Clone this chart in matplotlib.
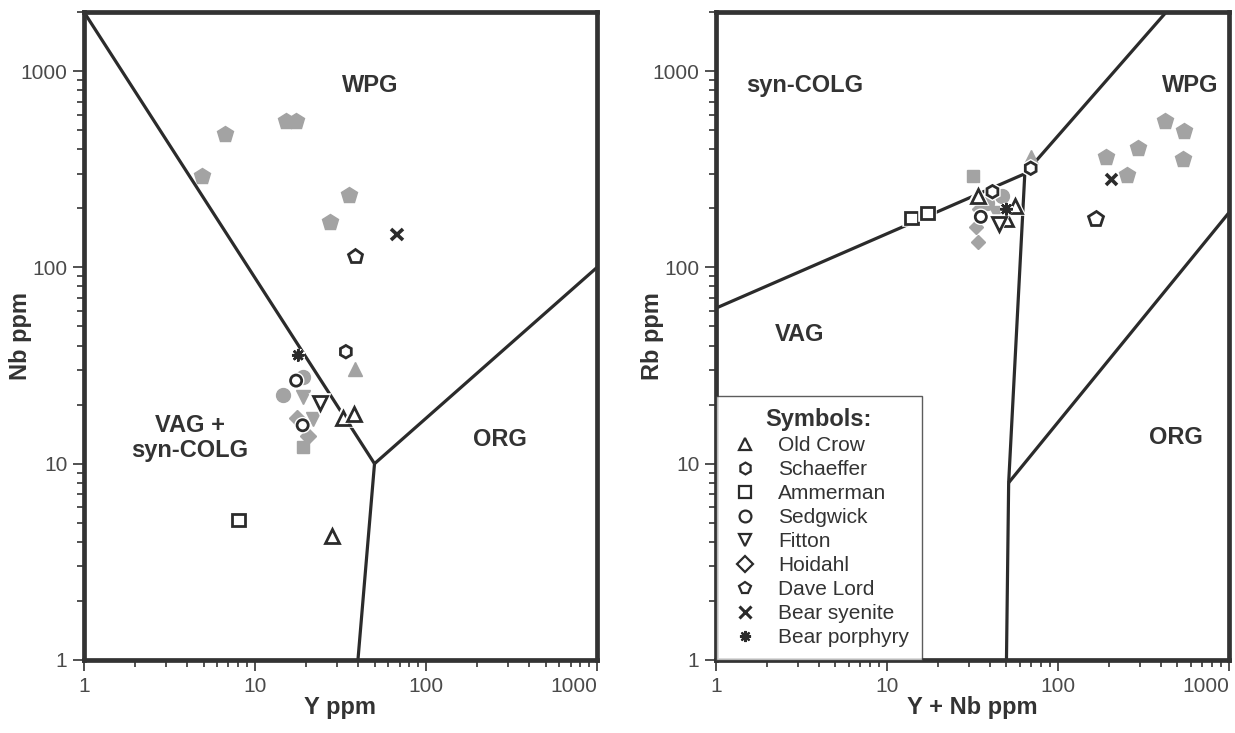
"""Pearce et al. (1984) granite discrimination diagrams: Nb-Y and Rb-(Y+Nb)."""

import matplotlib
matplotlib.use("Agg")
import matplotlib.pyplot as plt
import matplotlib.patheffects as pe
from matplotlib.lines import Line2D
from matplotlib.ticker import LogLocator, FixedLocator, NullFormatter

plt.rcParams['font.family'] = ['Liberation Sans', 'DejaVu Sans']

INK  = '#2b2b2b'
GREY = '#a3a3a3'

# ---- field boundaries ----
# Nb vs Y
NBY_WPG_VAG_X = [1, 50]
NBY_WPG_VAG_Y = [2000, 10]
NBY_WPG_ORG_X = [50, 1000]
NBY_WPG_ORG_Y = [10, 100]
NBY_ORG_VAG_X = [50, 40]
NBY_ORG_VAG_Y = [10, 1]
# Rb vs Y+Nb
RB_VAG_COLG_X = [1, 64]
RB_VAG_COLG_Y = [62, 300]
RB_COLG_WPG_X = [64, 430]
RB_COLG_WPG_Y = [300, 2000]
RB_WPG_VAG_X  = [64, 51.5, 50]
RB_WPG_VAG_Y  = [300, 8, 1]
RB_WPG_ORG_X  = [51.5, 1000]
RB_WPG_ORG_Y  = [8, 190]

TICKS = [1, 10, 100, 1000]
TICK_LABELS = ['1', '10', '100', '1000']

# ---- samples: Nb vs Y panel (open symbols) ----
L_OLDCROW_Y = [32.8, 37.9, 28.1]
L_OLDCROW_NB = [17.1, 17.9, 4.26]
L_SCHAEFFER_Y = [34.0]
L_SCHAEFFER_NB = [37.2]
L_AMMERMAN_Y = [8.0]
L_AMMERMAN_NB = [5.18]
L_SEDGWICK_Y = [17.4, 19.0]
L_SEDGWICK_NB = [26.5, 15.7]
L_FITTON_Y = [24.1]
L_FITTON_NB = [20.4]
L_DAVELORD_Y = [38.5]
L_DAVELORD_NB = [114]
L_SYENITE_Y = [67.7]
L_SYENITE_NB = [147]
L_PORPHYRY_Y = [17.9]
L_PORPHYRY_NB = [35.7]
# grey filled symbols
L_G_TRI_Y, L_G_TRI_NB = [38.5], [30.4]
L_G_CIR_Y, L_G_CIR_NB = [19.2, 14.5], [27.6, 22.4]
L_G_INV_Y, L_G_INV_NB = [19.2, 21.9], [21.9, 16.9]
L_G_DIA_Y, L_G_DIA_NB = [17.5, 20.5], [17.1, 13.9]
L_G_SQ_Y, L_G_SQ_NB = [19.0], [12.1]
L_G_PEN_Y = [4.88, 6.65, 15.2, 17.4, 35.6, 27.6]
L_G_PEN_NB = [292, 477, 554, 554, 233, 170]

# ---- samples: Rb vs Y+Nb panel ----
R_OLDCROW_X = [34.2, 56.1, 49.6]
R_OLDCROW_RB = [230, 206, 176]
R_SCHAEFFER_X = [41.4, 69.3]
R_SCHAEFFER_RB = [243, 320]
R_AMMERMAN_X = [13.9, 17.3]
R_AMMERMAN_RB = [178, 189]
R_SEDGWICK_X = [35.4]
R_SEDGWICK_RB = [181]
R_FITTON_X = [45.3]
R_FITTON_RB = [166]
R_DAVELORD_X = [166]
R_DAVELORD_RB = [177]
R_SYENITE_X = [205]
R_SYENITE_RB = [281]
R_PORPHYRY_X = [50]
R_PORPHYRY_RB = [198]
R_G_TRI_X, R_G_TRI_RB = [69.9], [363]
R_G_SQ_X, R_G_SQ_RB = [31.9], [292]
R_G_CIR_X, R_G_CIR_RB = [47.3, 38.7], [231, 214]
R_G_DIA_X, R_G_DIA_RB = [34.6, 33.4, 33.9], [198, 160, 134]
R_G_INV_X, R_G_INV_RB = [43.3], [190]
R_G_PEN_X = [425, 543, 293, 192, 536, 255]
R_G_PEN_RB = [557, 496, 408, 365, 356, 296]

SYMBOLS = ['Old Crow', 'Schaeffer', 'Ammerman', 'Sedgwick', 'Fitton',
           'Hoidahl', 'Dave Lord', 'Bear syenite', 'Bear porphyry']
MARKERS = {'Old Crow': ('^', 10), 'Schaeffer': ('h', 9), 'Ammerman': ('s', 9),
           'Sedgwick': ('o', 8), 'Fitton': ('v', 10), 'Hoidahl': ('D', 8),
           'Dave Lord': ('p', 11), 'Bear syenite': ('x', 8),
           'Bear porphyry': ((8, 2, 0), 9)}

halo = [pe.withStroke(linewidth=4, foreground='white')]


def boundary(ax, xs, ys):
    ax.plot(xs, ys, color=INK, lw=2.3, solid_capstyle='butt', zorder=2)


def grey(ax, xs, ys, m, ms=10):
    ax.plot(xs, ys, ls='none', marker=m, ms=ms, mfc=GREY, mec=GREY, zorder=3)


def open_pts(ax, xs, ys, name):
    m, ms = MARKERS[name]
    if name in ('Bear syenite', 'Bear porphyry'):
        ax.plot(xs, ys, ls='none', marker=m, ms=ms, mec=INK,
                mew=2.6 if name == 'Bear syenite' else 1.8,
                zorder=4, path_effects=halo)
    else:
        ax.plot(xs, ys, ls='none', marker=m, ms=ms, mfc='white', mec=INK,
                mew=2.0, zorder=4, path_effects=halo)


def style_axes(ax, xlabel, ylabel):
    ax.set_xscale('log')
    ax.set_yscale('log')
    ax.set_xlim(1, 1000)
    ax.set_ylim(1, 2000)
    for s in ax.spines.values():
        s.set_linewidth(3.4)
        s.set_color('#333333')
    ax.xaxis.set_major_locator(FixedLocator(TICKS))
    ax.yaxis.set_major_locator(FixedLocator(TICKS))
    ax.xaxis.set_minor_locator(LogLocator(base=10, subs=range(2, 10)))
    ax.yaxis.set_minor_locator(LogLocator(base=10, subs=range(2, 10)))
    ax.xaxis.set_minor_formatter(NullFormatter())
    ax.yaxis.set_minor_formatter(NullFormatter())
    ax.set_xticklabels(TICK_LABELS)
    ax.set_yticklabels(TICK_LABELS)
    ax.tick_params(which='major', direction='out', length=8, width=1.2,
                   color='#333333', labelsize=15, labelcolor='#4a4a4a', pad=4)
    ax.tick_params(which='minor', direction='out', length=5, width=1.2,
                   color='#333333')
    # keep the last x label inside the panel, as in the original figure
    last = ax.get_xticklabels()[-1]
    last.set_horizontalalignment('right')
    ax.set_xlabel(xlabel, fontsize=17, fontweight='bold', color='#333333',
                  labelpad=0)
    ax.set_ylabel(ylabel, fontsize=17, fontweight='bold', color='#333333')
    ax.yaxis.set_label_coords(-0.101, 0.5)


fig = plt.figure(figsize=(12.35, 7.33), dpi=100)
ax1 = fig.add_axes([0.068, 0.0996, 0.4154, 0.884])
ax2 = fig.add_axes([0.5797, 0.0996, 0.4154, 0.884])

# ---------------- left: Nb vs Y ----------------
style_axes(ax1, 'Y ppm', 'Nb ppm')
boundary(ax1, NBY_WPG_VAG_X, NBY_WPG_VAG_Y)
boundary(ax1, NBY_WPG_ORG_X, NBY_WPG_ORG_Y)
boundary(ax1, NBY_ORG_VAG_X, NBY_ORG_VAG_Y)

grey(ax1, L_G_PEN_Y, L_G_PEN_NB, 'p', 12)
grey(ax1, L_G_TRI_Y, L_G_TRI_NB, '^', 10)
grey(ax1, L_G_CIR_Y, L_G_CIR_NB, 'o', 10)
grey(ax1, L_G_INV_Y, L_G_INV_NB, 'v', 10)
grey(ax1, L_G_DIA_Y, L_G_DIA_NB, 'D', 8)
grey(ax1, L_G_SQ_Y, L_G_SQ_NB, 's', 9)

open_pts(ax1, L_OLDCROW_Y, L_OLDCROW_NB, 'Old Crow')
open_pts(ax1, L_SCHAEFFER_Y, L_SCHAEFFER_NB, 'Schaeffer')
open_pts(ax1, L_AMMERMAN_Y, L_AMMERMAN_NB, 'Ammerman')
open_pts(ax1, L_SEDGWICK_Y, L_SEDGWICK_NB, 'Sedgwick')
open_pts(ax1, L_FITTON_Y, L_FITTON_NB, 'Fitton')
open_pts(ax1, L_DAVELORD_Y, L_DAVELORD_NB, 'Dave Lord')
open_pts(ax1, L_SYENITE_Y, L_SYENITE_NB, 'Bear syenite')
open_pts(ax1, L_PORPHYRY_Y, L_PORPHYRY_NB, 'Bear porphyry')

lab = dict(fontsize=17, fontweight='bold', color='#333333',
           ha='center', va='center')
ax1.text(0.557, 0.887, 'WPG', transform=ax1.transAxes, **lab)
ax1.text(0.207, 0.343, 'VAG +\nsyn-COLG', transform=ax1.transAxes,
         linespacing=1.1, **lab)
ax1.text(0.811, 0.340, 'ORG', transform=ax1.transAxes, **lab)

# ---------------- right: Rb vs Y+Nb ----------------
style_axes(ax2, 'Y + Nb ppm', 'Rb ppm')
boundary(ax2, RB_VAG_COLG_X, RB_VAG_COLG_Y)
boundary(ax2, RB_COLG_WPG_X, RB_COLG_WPG_Y)
boundary(ax2, RB_WPG_VAG_X, RB_WPG_VAG_Y)
boundary(ax2, RB_WPG_ORG_X, RB_WPG_ORG_Y)

grey(ax2, R_G_PEN_X, R_G_PEN_RB, 'p', 12)
grey(ax2, R_G_TRI_X, R_G_TRI_RB, '^', 10)
grey(ax2, R_G_SQ_X, R_G_SQ_RB, 's', 9)
grey(ax2, R_G_CIR_X, R_G_CIR_RB, 'o', 10)
grey(ax2, R_G_DIA_X, R_G_DIA_RB, 'D', 7)
grey(ax2, R_G_INV_X, R_G_INV_RB, 'v', 10)

open_pts(ax2, R_OLDCROW_X, R_OLDCROW_RB, 'Old Crow')
open_pts(ax2, R_SCHAEFFER_X, R_SCHAEFFER_RB, 'Schaeffer')
open_pts(ax2, R_AMMERMAN_X, R_AMMERMAN_RB, 'Ammerman')
open_pts(ax2, R_SEDGWICK_X, R_SEDGWICK_RB, 'Sedgwick')
open_pts(ax2, R_FITTON_X, R_FITTON_RB, 'Fitton')
open_pts(ax2, R_DAVELORD_X, R_DAVELORD_RB, 'Dave Lord')
open_pts(ax2, R_SYENITE_X, R_SYENITE_RB, 'Bear syenite')
open_pts(ax2, R_PORPHYRY_X, R_PORPHYRY_RB, 'Bear porphyry')

ax2.text(0.173, 0.887, 'syn-COLG', transform=ax2.transAxes, **lab)
ax2.text(0.924, 0.887, 'WPG', transform=ax2.transAxes, **lab)
ax2.text(0.164, 0.502, 'VAG', transform=ax2.transAxes, **lab)
ax2.text(0.897, 0.343, 'ORG', transform=ax2.transAxes, **lab)

# legend box
handles = []
for name in SYMBOLS:
    m, ms = MARKERS[name]
    if name in ('Bear syenite', 'Bear porphyry'):
        handles.append(Line2D([], [], ls='none', marker=m, ms=8, mec=INK,
                              mew=2.2 if name == 'Bear syenite' else 1.6))
    else:
        handles.append(Line2D([], [], ls='none', marker=m, ms=8.5, mfc='white',
                              mec=INK, mew=1.6))
leg = ax2.legend(handles, SYMBOLS, loc='lower left', bbox_to_anchor=(0.0, 0.0),
                 title='Symbols:', fontsize=15, title_fontsize=17,
                 frameon=True, fancybox=False, edgecolor='#333333',
                 borderpad=0.6, labelspacing=0.24, handletextpad=0.8,
                 handlelength=1.6, borderaxespad=0.0)
leg.get_frame().set_linewidth(1.0)
leg.get_title().set_fontweight('bold')
leg.get_title().set_color('#333333')
for t in leg.get_texts():
    t.set_color('#333333')
leg.set_zorder(5)

fig.savefig('out.png', dpi=100, facecolor='white')
